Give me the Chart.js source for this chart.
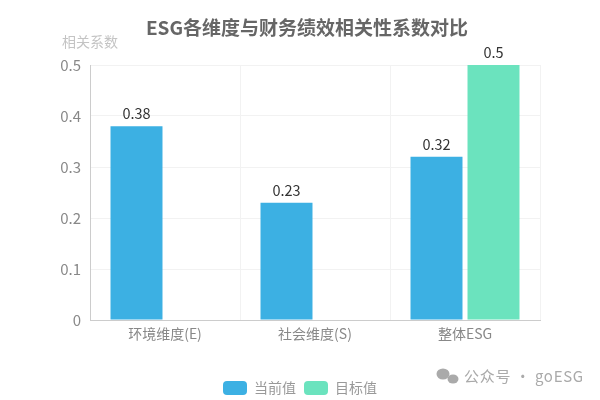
<html>
<head>
<meta charset="utf-8">
<style>
body{margin:0;background:#fff;}
</style>
</head>
<body>
<canvas id="myChart" width="600" height="400"></canvas>
<script src="https://cdn.jsdelivr.net/npm/chart.js@4"></script>
<script>
const categories = ['环境维度(E)', '社会维度(S)', '整体ESG'];
const currentValues = [0.38, 0.23, 0.32];
const targetValues = [null, null, 0.5];
const yTicks = [0, 0.1, 0.2, 0.3, 0.4, 0.5];
const seriesNames = ['当前值', '目标值'];
const fontName = '"Noto Sans CJK SC", "Open Sans", sans-serif';

// title (sits off centre), value labels, y axis name and the watermark
const extras = {
    id: 'extras',
    afterDatasetsDraw(chart) {
        const ctx = chart.ctx;
        ctx.save();
        ctx.textAlign = 'center';
        ctx.textBaseline = 'middle';
        ctx.font = 'bold 19px ' + fontName;
        ctx.fillStyle = '#666';
        ctx.fillText('ESG各维度与财务绩效相关性系数对比', 307, 28);
        ctx.textBaseline = 'bottom';
        ctx.font = '14.5px ' + fontName;
        ctx.fillStyle = '#333';
        chart.data.datasets.forEach((ds, i) => {
            chart.getDatasetMeta(i).data.forEach((bar, j) => {
                if (ds.data[j] === null) return;
                ctx.fillText(ds.data[j], bar.x, bar.y - 5);
            });
        });
        ctx.textAlign = 'left';
        ctx.textBaseline = 'middle';
        ctx.font = '14px ' + fontName;
        ctx.fillStyle = '#c4c4c4';
        ctx.fillText('相关系数', 62, 42);
        ctx.fillStyle = '#aaa';
        ctx.font = '15px ' + fontName;
        ctx.letterSpacing = '0.7px';
        ctx.fillText('公众号 · goESG', 464, 376);
        ctx.beginPath();
        ctx.ellipse(443, 374, 6.5, 5.5, 0, 0, Math.PI * 2);
        ctx.fill();
        ctx.beginPath();
        ctx.ellipse(453, 379, 5.5, 4.5, 0, 0, Math.PI * 2);
        ctx.fill();
        ctx.restore();
    }
};

var chart = new Chart(document.getElementById('myChart').getContext('2d'), {
    type: 'bar',
    plugins: [extras],
    data: {
        labels: categories,
        datasets: [
            { label: seriesNames[0], data: currentValues, backgroundColor: '#3CB0E3', borderColor: '#3CB0E3', categoryPercentage: 0.76, barPercentage: 0.912 },
            { label: seriesNames[1], data: targetValues, backgroundColor: '#6BE3BE', borderColor: '#6BE3BE', categoryPercentage: 0.76, barPercentage: 0.912 }
        ]
    },
    options: {
        responsive: false,
        animation: false,
        layout: { padding: { left: 0, right: 0, top: 65, bottom: -5 } },
        plugins: {
            title: { display: false },
            legend: {
                position: 'bottom',
                labels: {
                    color: '#999',
                    font: { family: fontName, size: 14 },
                    boxWidth: 24,
                    boxHeight: 14,
                    useBorderRadius: true,
                    borderRadius: 4,
                    padding: 8
                }
            },
            tooltip: { enabled: false }
        },
        scales: {
            x: {
                grid: { color: '#f2f2f2', drawTicks: false },
                border: { color: '#ccc' },
                ticks: { color: '#888', font: { family: fontName, size: 14 }, padding: 5 },
                afterFit(scale) { scale.height = 53; }
            },
            y: {
                min: 0,
                max: 0.5,
                afterBuildTicks(scale) { scale.ticks = yTicks.map(v => ({ value: v })); },
                grid: { color: '#f2f2f2', drawTicks: false },
                border: { color: '#ccc' },
                ticks: { color: '#888', font: { family: fontName, size: 15 }, padding: 9 },
                afterFit(scale) { scale.width = 90; }
            },
            // empty axis on the right, only keeps the margin so the legend stays centred on the page
            spacer: {
                position: 'right',
                grid: { display: false },
                border: { display: false },
                ticks: { display: false },
                afterFit(scale) { scale.width = 60; }
            }
        }
    }
});
</script>
</body>
</html>
